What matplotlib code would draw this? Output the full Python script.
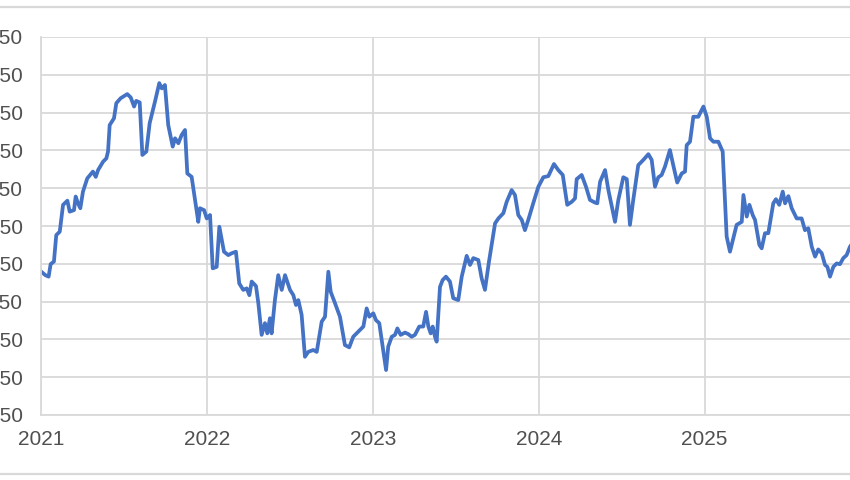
"""Weekly price line, 2021 to late 2025, cropped Excel-style chart."""

import matplotlib

matplotlib.use("Agg", force=True)

import matplotlib.pyplot as plt
from matplotlib.lines import Line2D

# x as decimal years
years = [
    2021.002, 2021.026, 2021.046, 2021.058, 2021.078, 2021.092, 2021.113, 2021.133,
    2021.159, 2021.173, 2021.199, 2021.209, 2021.223, 2021.237, 2021.253, 2021.279,
    2021.313, 2021.330, 2021.344, 2021.374, 2021.394, 2021.404, 2021.414, 2021.440,
    2021.454, 2021.480, 2021.520, 2021.541, 2021.561, 2021.574, 2021.595, 2021.611,
    2021.635, 2021.655, 2021.687, 2021.713, 2021.728, 2021.747, 2021.767, 2021.794,
    2021.808, 2021.828, 2021.848, 2021.868, 2021.882, 2021.908, 2021.948, 2021.958,
    2021.983, 2021.999, 2022.019, 2022.035, 2022.059, 2022.075, 2022.103, 2022.129,
    2022.150, 2022.175, 2022.195, 2022.219, 2022.240, 2022.256, 2022.270, 2022.296,
    2022.310, 2022.330, 2022.350, 2022.364, 2022.380, 2022.390, 2022.410, 2022.430,
    2022.451, 2022.471, 2022.501, 2022.521, 2022.537, 2022.551, 2022.571, 2022.591,
    2022.611, 2022.641, 2022.662, 2022.692, 2022.712, 2022.732, 2022.746, 2022.772,
    2022.802, 2022.832, 2022.858, 2022.882, 2022.923, 2022.943, 2022.963, 2022.979,
    2023.003, 2023.019, 2023.039, 2023.080, 2023.093, 2023.114, 2023.134, 2023.148,
    2023.168, 2023.194, 2023.214, 2023.234, 2023.254, 2023.280, 2023.304, 2023.321,
    2023.335, 2023.349, 2023.361, 2023.375, 2023.385, 2023.405, 2023.421, 2023.441,
    2023.465, 2023.485, 2023.515, 2023.536, 2023.566, 2023.586, 2023.606, 2023.636,
    2023.656, 2023.676, 2023.700, 2023.737, 2023.757, 2023.787, 2023.807, 2023.837,
    2023.857, 2023.877, 2023.898, 2023.917, 2023.937, 2023.967, 2023.998, 2024.028,
    2024.058, 2024.092, 2024.118, 2024.145, 2024.172, 2024.199, 2024.219, 2024.229,
    2024.259, 2024.285, 2024.309, 2024.339, 2024.353, 2024.370, 2024.400, 2024.420,
    2024.460, 2024.480, 2024.510, 2024.531, 2024.550, 2024.570, 2024.600, 2024.631,
    2024.661, 2024.681, 2024.701, 2024.721, 2024.741, 2024.761, 2024.791, 2024.811,
    2024.835, 2024.862, 2024.882, 2024.892, 2024.912, 2024.932, 2024.962, 2024.993,
    2025.013, 2025.033, 2025.053, 2025.083, 2025.109, 2025.133, 2025.153, 2025.173,
    2025.193, 2025.224, 2025.234, 2025.254, 2025.270, 2025.290, 2025.304, 2025.330,
    2025.344, 2025.364, 2025.384, 2025.414, 2025.430, 2025.450, 2025.471, 2025.485,
    2025.505, 2025.525, 2025.555, 2025.585, 2025.605, 2025.625, 2025.646, 2025.666,
    2025.685, 2025.706, 2025.726, 2025.740, 2025.756, 2025.776, 2025.796, 2025.816,
    2025.836, 2025.856, 2025.876, 2025.912,
]
values = [
    529, 520, 516, 549, 556, 626, 635, 706,
    717, 688, 692, 728, 710, 697, 741, 776,
    794, 780, 798, 820, 829, 847, 917, 935,
    975, 988, 999, 990, 966, 981, 977, 838,
    847, 922, 979, 1028, 1014, 1023, 917, 860,
    882, 869, 891, 904, 789, 780, 661, 697,
    692, 670, 679, 538, 542, 648, 582, 573,
    578, 582, 498, 481, 485, 467, 503, 491,
    446, 362, 393, 366, 406, 366, 454, 520,
    481, 520, 481, 467, 441, 454, 415, 304,
    317, 322, 317, 397, 410, 529, 476, 446,
    410, 335, 329, 357, 375, 384, 432, 410,
    419, 401, 393, 269, 331, 357, 362, 379,
    362, 368, 364, 357, 362, 384, 384, 423,
    384, 366, 384, 357, 344, 489, 507, 516,
    503, 459, 454, 516, 571, 547, 565, 560,
    512, 481, 555, 657, 670, 684, 714, 745,
    732, 679, 666, 639, 666, 710, 754, 779,
    782, 814, 798, 785, 706, 714, 723, 774,
    785, 754, 719, 712, 710, 767, 798, 745,
    661, 719, 779, 774, 653, 719, 811, 825,
    840, 825, 754, 779, 785, 807, 851, 811,
    765, 789, 794, 864, 873, 939, 939, 966,
    939, 882, 873, 873, 847, 622, 582, 617,
    653, 661, 732, 675, 706, 679, 666, 600,
    591, 631, 631, 710, 721, 706, 741, 710,
    729, 697, 670, 670, 639, 644, 595, 569,
    588, 578, 547, 542, 516, 542, 551, 549,
    565, 573, 595, 618,
]
year_ticks = [2021, 2022, 2023, 2024, 2025]
value_ticks = [150, 250, 350, 450, 550, 650, 750, 850, 950, 1050, 1150]

GRID = "#d9d9d9"
TEXT = "#505050"
LINE = "#4472c4"

W, H = 850, 480
fig = plt.figure(figsize=(W / 100, H / 100), dpi=100, facecolor="white")

# plot area in pixels: left 41, right runs off the edge at 850, top 37, bottom 415
left, right, top, bottom = 41, 850, 37, 415
ax = fig.add_axes([left / W, 1 - bottom / H, (right - left) / W, (bottom - top) / H])

px_per_year = 165.9
ax.plot(years, values, color=LINE, linewidth=2.7, solid_joinstyle="round")

ax.set_xlim(2021, 2021 + (right - left) / px_per_year)
ax.set_ylim(150, 1150)
ax.set_xticks(year_ticks)
ax.set_xticklabels([str(y) for y in year_ticks])
ax.set_yticks(value_ticks)
ax.set_yticklabels([str(v) for v in value_ticks])

ax.grid(True, color=GRID, linewidth=1.3)
ax.set_axisbelow(True)
for side in ("top", "right"):
    ax.spines[side].set_visible(False)
for side in ("left", "bottom"):
    ax.spines[side].set_color(GRID)
    ax.spines[side].set_linewidth(1.3)

ax.tick_params(axis="both", length=0, colors=TEXT, labelsize=15)
ax.tick_params(axis="y", pad=13)
ax.tick_params(axis="x", pad=11)
for lab in ax.get_xticklabels() + ax.get_yticklabels():
    lab.set_family(["Liberation Sans", "DejaVu Sans"])

# chart-area border, only the top and bottom edges show in the crop
for yy in (7, 474):
    fig.add_artist(Line2D([0, 1], [1 - yy / H, 1 - yy / H], color=GRID, linewidth=1.6,
                          transform=fig.transFigure))

fig.savefig("out.png", dpi=100, facecolor="white")
